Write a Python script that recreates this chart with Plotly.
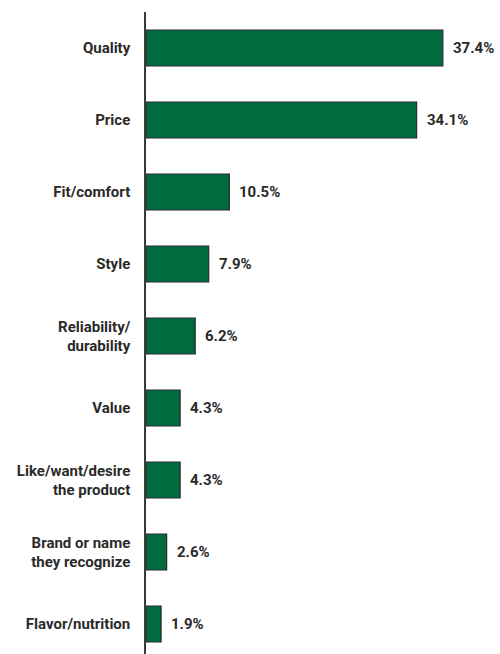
import plotly.graph_objects as go

# Reasons given for choosing a product, share of respondents (%)
categories = [
    "Quality",
    "Price",
    "Fit/comfort",
    "Style",
    "Reliability/<br>durability",
    "Value",
    "Like/want/desire<br>the product",
    "Brand or name<br>they recognize",
    "Flavor/nutrition",
]
shares = [37.4, 34.1, 10.5, 7.9, 6.2, 4.3, 4.3, 2.6, 1.9]

TEXT = "#2b2a29"
GREEN = "#006b3f"
FONT = "Roboto"
FSIZE = 15

fig = go.Figure(
    go.Bar(
        x=shares,
        y=list(range(len(categories))),
        orientation="h",
        width=0.5,
        marker=dict(color=GREEN, line=dict(color="#2a2a2a", width=1.2)),
        hoverinfo="skip",
    )
)

for i, v in enumerate(shares):
    fig.add_annotation(
        x=v, y=i, text=f"<b>{v:.1f}%</b>", showarrow=False,
        xanchor="left", xshift=8, yshift=0,
        font=dict(family=FONT, size=FSIZE, color=TEXT),
    )

fig.update_layout(
    width=500, height=654,
    margin=dict(l=146, r=0, t=12, b=0),
    paper_bgcolor="white", plot_bgcolor="white",
    showlegend=False,
    xaxis=dict(range=[0, 44.6], visible=False, fixedrange=True),
    yaxis=dict(
        range=[8.4167, -0.5],
        tickmode="array",
        tickvals=list(range(len(categories))),
        ticktext=[f"<b>{c}</b>" for c in categories],
        tickfont=dict(family=FONT, size=FSIZE, color=TEXT),
        showline=True, linecolor="#3a3a3a", linewidth=1.5,
        ticks="", showgrid=False, zeroline=False,
        ticklabelstandoff=11,
        fixedrange=True,
    ),
)

fig.write_html("out.html")
